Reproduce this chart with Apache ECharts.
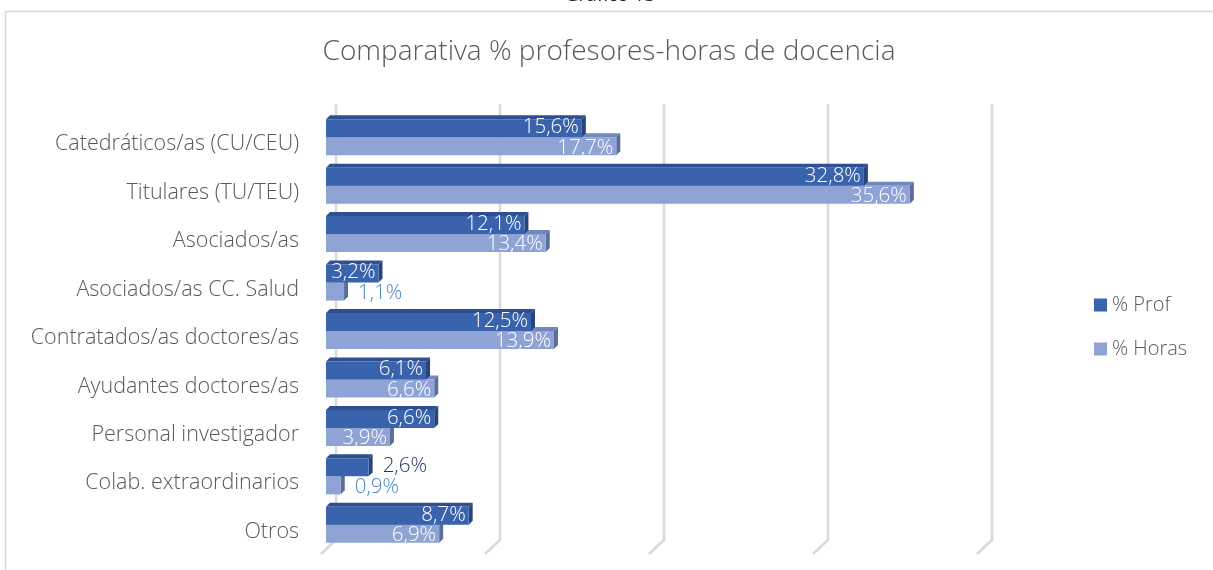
<!DOCTYPE html>
<html lang="es">
<head>
<meta charset="UTF-8">
<title>Comparativa % profesores-horas de docencia</title>
<script src="https://cdn.jsdelivr.net/npm/echarts@6/dist/echarts.min.js"></script>
<style>
  html, body { margin: 0; padding: 0; background: #fff; }
  #chart { width: 1213px; height: 570px; }
</style>
</head>
<body>
<div id="chart"></div>
<script>
// datos
var categories = [
  'Catedráticos/as (CU/CEU)',
  'Titulares (TU/TEU)',
  'Asociados/as',
  'Asociados/as CC. Salud',
  'Contratados/as doctores/as',
  'Ayudantes doctores/as',
  'Personal investigador',
  'Colab. extraordinarios',
  'Otros'
];
var profValues = [15.6, 32.8, 12.1, 3.2, 12.5, 6.1, 6.6, 2.6, 8.7];
var horasValues = [17.7, 35.6, 13.4, 1.1, 13.9, 6.6, 3.9, 0.9, 6.9];
var xTicks = [0, 10, 20, 30, 40];

var FONT = '"Open Sans", "Noto Sans", sans-serif';
var BAR_H = 18;
var DEPTH = 4;

function fmt(v) {
  return v.toFixed(1).replace('.', ',') + '%';
}

// barra "3D" al estilo Excel: cara frontal, superior y lateral
function barRenderer(front, top, side, outColor, shift, labelDy) {
  return function (params, api) {
    var v = api.value(0), c = api.value(1);
    var p0 = api.coord([0, c]);
    var p1 = api.coord([v, c]);
    var x0 = p0[0], x1 = p1[0];
    var y0 = p0[1] + shift;
    var h = BAR_H, d = DEPTH;
    var inside = (x1 - x0) > 50;
    return {
      type: 'group',
      children: [
        {
          type: 'polygon',
          shape: { points: [[x0, y0], [x0 + d, y0 - d], [x1 + d, y0 - d], [x1, y0]] },
          style: { fill: top }
        },
        {
          type: 'polygon',
          shape: { points: [[x1, y0], [x1 + d, y0 - d], [x1 + d, y0 + h - d], [x1, y0 + h]] },
          style: { fill: side }
        },
        {
          type: 'rect',
          shape: { x: x0, y: y0, width: x1 - x0, height: h },
          style: { fill: front }
        },
        {
          type: 'text',
          x: inside ? x1 - 3 : x1 + 14,
          y: y0 + h / 2 + labelDy,
          style: {
            text: fmt(v),
            fill: inside ? '#ffffff' : outColor,
            font: '300 20.5px ' + FONT,
            align: inside ? 'right' : 'left',
            verticalAlign: 'middle'
          }
        }
      ]
    };
  };
}

var chart = echarts.init(document.getElementById('chart'));

chart.setOption({
  backgroundColor: '#ffffff',
  animation: false,
  title: {
    text: 'Comparativa % profesores-horas de docencia',
    left: 604,
    textAlign: 'center',
    top: 33,
    textStyle: { fontFamily: FONT, fontWeight: 300, fontSize: 28, color: '#595959' }
  },
  graphic: [
    {
      type: 'rect',
      shape: { x: 5.5, y: 11.5, width: 1240, height: 600 },
      style: { fill: null, stroke: '#d9d9d9', lineWidth: 1.5 },
      z: -10
    },
    {
      type: 'text',
      x: 610,
      y: 5,
      style: {
        text: 'Gráfico 13',
        fill: '#222',
        font: '19px ' + FONT,
        align: 'center',
        verticalAlign: 'bottom'
      }
    }
  ],
  legend: {
    orient: 'vertical',
    left: 1089,
    top: 290,
    icon: 'rect',
    itemWidth: 13,
    itemHeight: 13,
    itemGap: 24,
    data: ['% Prof', '% Horas'],
    textStyle: { fontFamily: FONT, fontWeight: 300, fontSize: 20, color: '#595959' }
  },
  grid: { left: 326, top: 113, width: 656, height: 436 },
  xAxis: {
    type: 'value',
    min: 0,
    max: 40,
    interval: 10,
    axisLabel: { show: false },
    axisLine: { show: false },
    axisTick: { show: false },
    splitLine: { show: false }
  },
  yAxis: {
    type: 'category',
    data: categories,
    inverse: true,
    axisLine: { show: false },
    axisTick: { show: false },
    axisLabel: { show: false }
  },
  series: [
    {
      name: 'grid',
      type: 'custom',
      silent: true,
      z: 1,
      encode: { x: 0, y: 1 },
      data: xTicks.map(function (t) { return [t, 0]; }),
      renderItem: function (params, api) {
        var cs = params.coordSys;
        var x = api.coord([api.value(0), 0])[0];
        var yTop = cs.y - 9;
        var yBot = cs.y + cs.height - 9;
        return {
          type: 'polyline',
          shape: { points: [[x + 10, yTop], [x + 10, yBot], [x - 5, cs.y + cs.height + 5]] },
          style: { stroke: '#d9d9d9', lineWidth: 2.5, fill: null }
        };
      }
    },
    {
      // etiquetas de categoría (un poco por debajo del centro, como en Excel 3D)
      name: 'cats',
      type: 'custom',
      silent: true,
      z: 1,
      encode: { x: 0, y: 1 },
      data: categories.map(function (c, i) { return [0, i]; }),
      renderItem: function (params, api) {
        var p = api.coord([0, api.value(1)]);
        return {
          type: 'text',
          x: p[0] - 27,
          y: p[1] + 7,
          style: {
            text: categories[params.dataIndex],
            fill: '#595959',
            font: '300 21.5px ' + FONT,
            align: 'right',
            verticalAlign: 'middle'
          }
        };
      }
    },
    {
      name: '% Horas',
      type: 'custom',
      z: 2,
      itemStyle: { color: '#8fa3d5' },
      encode: { x: 0, y: 1 },
      data: horasValues.map(function (v, i) { return [v, i]; }),
      renderItem: barRenderer('#8fa3d5', '#7486bb', '#5b6d9b', '#4a86c8', 0, 1.5)
    },
    {
      name: '% Prof',
      type: 'custom',
      z: 3,
      itemStyle: { color: '#3a63ae' },
      encode: { x: 0, y: 1 },
      data: profValues.map(function (v, i) { return [v, i]; }),
      renderItem: barRenderer('#3a63ae', '#2e5093', '#27447c', '#223a66', -BAR_H, -1)
    }
  ]
});
</script>
</body>
</html>
